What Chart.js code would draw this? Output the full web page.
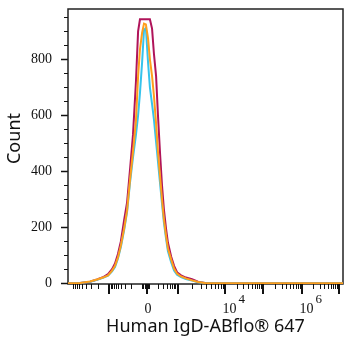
<!DOCTYPE html>
<html>
<head>
<meta charset="utf-8">
<script src="https://cdn.jsdelivr.net/npm/chart.js@4"></script>
<style>
  html, body { margin: 0; padding: 0; background: #fff; }
</style>
</head>
<body>
<canvas id="histChart" width="356" height="350"></canvas>
<script>
// x positions in display channels (0-1024, biexponential display)
var xChannels = [0, 45, 82, 108, 130, 149, 164, 175, 186, 197, 209, 220, 231, 242, 253, 261, 268, 276, 283, 290,
  298, 305, 313, 320, 328, 335, 343, 350, 357, 365, 372, 384, 395, 406, 421, 439, 462, 484, 510, 547, 1024];

// counts per series
var crimsonCounts = [0, 1, 5, 13, 21, 32, 50, 70, 104, 150, 225, 289, 407, 530, 720, 900, 943, 943, 943, 943,
  943, 943, 910, 820, 740, 600, 460, 350, 265, 195, 145, 95, 62, 39, 28, 20, 14, 5, 1, 0, 0];
var orangeCounts = [0, 1, 6, 13, 20, 28, 45, 62, 92, 135, 195, 260, 370, 470, 580, 740, 836, 895, 928, 925,
  875, 800, 740, 670, 570, 470, 380, 300, 230, 170, 125, 85, 52, 34, 24, 17, 10, 4, 1, 0, 0];
var cyanCounts = [0, 1, 5, 12, 19, 27, 42, 58, 88, 130, 190, 255, 360, 450, 530, 600, 680, 790, 905, 912,
  790, 700, 640, 585, 505, 435, 355, 285, 218, 160, 115, 75, 45, 30, 22, 15, 9, 3, 1, 0, 0];

// axis ticks
var yTickValues = [0, 200, 400, 600, 800];
var yMinorTicks = [50, 100, 150, 250, 300, 350, 450, 500, 550, 650, 700, 750, 850, 900, 950];
var xAnchorValues = [-1e4, -1e3, -1e2, 0, 1e2, 1e3, 1e4, 1e5, 1e6, 1e7];
var xAnchorChannels = [11, 153, 268, 294, 305, 410, 585, 726, 871, 1009];
var xMajorTicks = [-1e3, 0, 1e3, 1e4, 1e5, 1e6, 1e7];
var xLabelValues = [0, 1e4, 1e6];
var xLabelBase = ['0', '10', '10'];
var xLabelExp = ['', '4', '6'];

// value -> display channel (log between decades, linear around zero)
function biexChannel(v) {
  for (var i = 0; i < xAnchorValues.length - 1; i++) {
    var a = xAnchorValues[i], b = xAnchorValues[i + 1];
    if (v >= a && v <= b) {
      var ca = xAnchorChannels[i], cb = xAnchorChannels[i + 1];
      var f;
      if (a * b > 0) {
        f = (Math.log10(Math.abs(v)) - Math.log10(Math.abs(a))) / (Math.log10(Math.abs(b)) - Math.log10(Math.abs(a)));
      } else {
        f = (v - a) / (b - a);
      }
      return ca + (cb - ca) * f;
    }
  }
  return null;
}

function minorValues() {
  var out = [];
  [1e2, 1e3, 1e4, 1e5, 1e6].forEach(function (d) {
    for (var m = 2; m <= 9; m++) { out.push(m * d); out.push(-m * d); }
  });
  for (var k = -75; k <= 75; k += 25) out.push(k);
  return out.filter(function (v) { return v >= -1e4 && v <= 1e7; });
}

function toPoints(counts) {
  return counts.map(function (c, i) { return { x: xChannels[i], y: c }; });
}

var axisPlugin = {
  id: 'axisPlugin',
  beforeDatasetsDraw: function (chart) {
    var ctx = chart.ctx, a = chart.chartArea;
    ctx.save();
    ctx.strokeStyle = '#222';
    ctx.lineWidth = 1.5;
    ctx.strokeRect(a.left, a.top, a.right - a.left, a.bottom - a.top);
    ctx.restore();
  },
  afterDraw: function (chart) {
    var ctx = chart.ctx, a = chart.chartArea;
    var xs = chart.scales.x, ys = chart.scales.y;
    ctx.save();
    ctx.strokeStyle = '#111';
    ctx.lineWidth = 1;
    yMinorTicks.forEach(function (v) {
      var py = Math.round(ys.getPixelForValue(v)) + 0.5;
      ctx.beginPath(); ctx.moveTo(a.left - 4, py); ctx.lineTo(a.left, py); ctx.stroke();
    });
    minorValues().forEach(function (v) {
      var px = Math.round(xs.getPixelForValue(biexChannel(v))) + 0.5;
      ctx.beginPath(); ctx.moveTo(px, a.bottom); ctx.lineTo(px, a.bottom + 5); ctx.stroke();
    });
    ctx.lineWidth = 2;
    xMajorTicks.forEach(function (v) {
      var px = Math.round(xs.getPixelForValue(biexChannel(v)));
      ctx.beginPath(); ctx.moveTo(px, a.bottom); ctx.lineTo(px, a.bottom + 10); ctx.stroke();
    });

    ctx.fillStyle = '#111';
    ctx.textBaseline = 'alphabetic';
    xLabelValues.forEach(function (v, i) {
      var px = xs.getPixelForValue(biexChannel(v));
      ctx.font = '14px "Liberation Serif"';
      if (xLabelExp[i] === '') {
        ctx.textAlign = 'center';
        ctx.fillText(xLabelBase[i], px + 1, a.bottom + 29);
      } else {
        ctx.textAlign = 'center';
        var cx = px + 4.5;
        ctx.fillText(xLabelBase[i], cx, a.bottom + 29);
        var w = ctx.measureText(xLabelBase[i]).width;
        ctx.textAlign = 'left';
        ctx.font = '13px "Liberation Serif"';
        ctx.fillText(xLabelExp[i], cx + w / 2 + 2, a.bottom + 19);
      }
    });

    ctx.font = '18px "Noto Sans"';
    ctx.textAlign = 'center';
    ctx.textBaseline = 'middle';
    ctx.translate(15, (a.top + a.bottom) / 2 - 8);
    ctx.rotate(-Math.PI / 2);
    ctx.fillText('Count', 0, 0);
    ctx.restore();
  }
};

var histChart = new Chart(document.getElementById('histChart'), {
  type: 'line',
  data: {
    datasets: [
      { label: 'orange', data: toPoints(orangeCounts), borderColor: '#FF9F1C', borderWidth: 2 },
      { label: 'cyan', data: toPoints(cyanCounts), borderColor: '#35C3EC', borderWidth: 2 },
      { label: 'crimson', data: toPoints(crimsonCounts), borderColor: '#B0145A', borderWidth: 2 },
    ],
  },
  options: {
    responsive: false,
    animation: false,
    devicePixelRatio: 1,
    layout: { padding: { top: 9, right: 13, left: 0, bottom: 0 } },
    elements: { point: { radius: 0 }, line: { tension: 0, fill: false } },
    plugins: { legend: { display: false }, tooltip: { enabled: false } },
    scales: {
      x: {
        type: 'linear',
        min: 0,
        max: 1024,
        ticks: { display: false },
        grid: { display: false, drawTicks: false },
        border: { display: false },
        title: {
          display: true,
          text: 'Human IgD-ABflo® 647',
          color: '#111',
          font: { family: 'Noto Sans', size: 18 },
          padding: { top: 0, bottom: 12 },
        },
        afterFit: function (s) { s.height = 66; s.paddingLeft = 0; s.paddingRight = 0; },
      },
      y: {
        min: -3,
        max: 980,
        afterBuildTicks: function (s) {
          s.ticks = yTickValues.map(function (v) { return { value: v }; });
        },
        ticks: { color: '#111', font: { family: 'Liberation Serif', size: 14 }, padding: 9 },
        grid: { drawOnChartArea: false, tickLength: 7, tickWidth: 1.5, color: '#111' },
        border: { display: false },
        afterFit: function (s) { s.width = 68; s.paddingTop = 0; s.paddingBottom = 0; },
      },
    },
  },
  plugins: [axisPlugin],
});
</script>
</body>
</html>
